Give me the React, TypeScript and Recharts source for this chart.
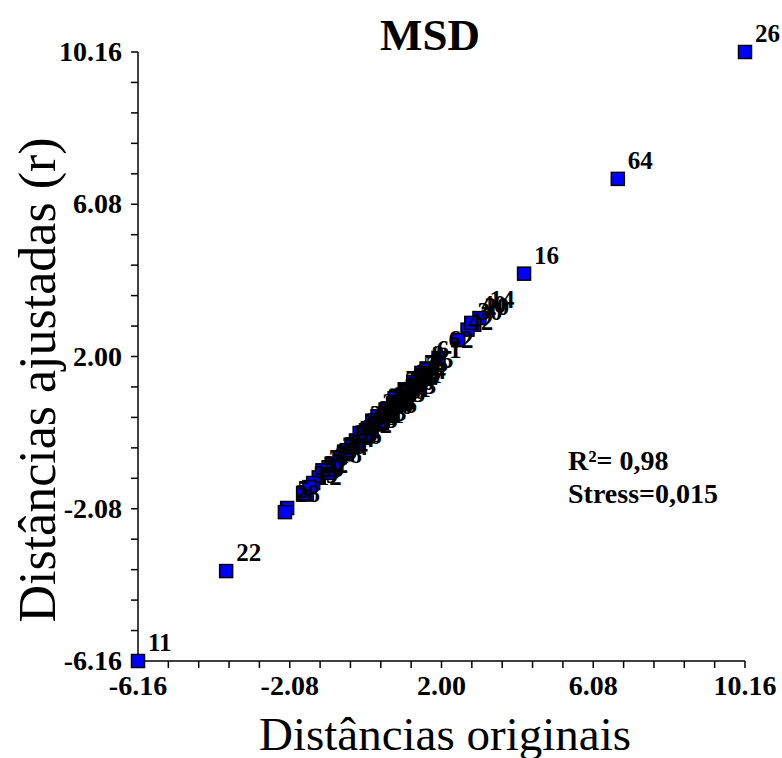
import React from "react";
import { ScatterChart, Scatter, XAxis, YAxis } from "recharts";

const title = "MSD";
const xTitle = "Distâncias originais";
const yTitle = "Distâncias ajustadas (r)";
const statLines = ["R²= 0,98", "Stress=0,015"];

const axisTicks = [
  -6.16, -5.344, -4.528, -3.712, -2.896, -2.08, -1.264, -0.448, 0.368, 1.184,
  2.0, 2.816, 3.632, 4.448, 5.264, 6.08, 6.896, 7.712, 8.528, 9.344, 10.16,
];
const majorTicks = [-6.16, -2.08, 2.0, 6.08, 10.16];
const majorLabels = ["-6.16", "-2.08", "2.00", "6.08", "10.16"];

const pointLabels = [
  "1","2","3","4","5","6","7","8","9","10","11","12","13","14","15","16",
  "17","18","19","20","21","22","23","24","25","26","27","28","29","30","31","32",
  "33","34","35","36","37","38","39","40","41","42","43","44","45","46","47","48",
  "49","50","51","52","53","54","55","56","57","58","59","60","61","62","63","64",
];
const originalDist = [
  -0.42, 0.21, 1.31, -0.85, -2.15, 0.55, -1.30, 1.46, 0.02, 0.88, -6.16, -1.62, 0.36, 3.02, -0.12, 4.22,
  0.70, -1.08, 1.02, 2.88, -0.62, -3.79, 0.14, 1.18, -0.30, 10.16, 0.46, -2.21, -0.95, 2.70, 0.78, -1.45,
  0.96, -0.20, 0.62, -0.55, 1.12, 0.28, -1.72, 2.80, 0.05, 2.45, 0.92, -0.74, 1.38, 0.40, -0.06, 0.82,
  -1.20, 0.66, 1.07, -0.27, 0.12, -0.92, 1.24, 0.50, -0.54, 0.74, -1.55, 0.30, 1.60, 1.92, -0.10, 6.74,
];
const adjustedDist = [
  -0.38, 0.18, 1.25, -0.90, -2.06, 0.60, -1.24, 1.56, 0.08, 0.84, -6.16, -1.70, 0.31, 3.03, -0.18, 4.22,
  0.74, -1.12, 1.10, 2.85, -0.55, -3.75, 0.28, 1.13, -0.25, 10.16, 0.44, -2.17, -0.88, 2.72, 0.66, -1.39,
  0.98, -0.05, 0.52, -0.62, 0.98, 0.40, -1.66, 2.90, -0.05, 2.44, 0.72, -0.70, 1.42, 0.22, -0.05, 0.95,
  -1.05, 0.60, 1.02, -0.32, 0.00, -0.91, 1.32, 0.58, -0.51, 0.88, -1.50, 0.20, 1.68, 1.96, -0.10, 6.76,
];

const data = pointLabels.map((label, i) => ({ label, x: originalDist[i], y: adjustedDist[i] }));

const FONT = "'Liberation Serif', 'Times New Roman', serif";

const majorLabel = (v: number) => {
  const idx = majorTicks.findIndex((m) => Math.abs(m - v) < 1e-6);
  return idx >= 0 ? majorLabels[idx] : "";
};

const XTick = (p: any) => {
  const t = majorLabel(p.payload.value);
  if (!t) return <g />;
  return (
    <text x={p.x} y={p.y + 25} textAnchor="middle" fontFamily={FONT} fontWeight="bold" fontSize={28} fill="#000">
      {t}
    </text>
  );
};

const YTick = (p: any) => {
  const t = majorLabel(p.payload.value);
  if (!t) return <g />;
  return (
    <text x={p.x - 7} y={p.y + 9} textAnchor="end" fontFamily={FONT} fontWeight="bold" fontSize={28} fill="#000">
      {t}
    </text>
  );
};

const SquareShape = (p: any) => {
  const s = 13;
  return <rect x={p.cx - s / 2} y={p.cy - s / 2} width={s} height={s} fill="#0000FF" stroke="#000" strokeWidth={1.5} />;
};

const LabelShape = (p: any) => {
  const lab = p.payload?.label ?? "";
  return (
    <text x={p.cx + 10} y={p.cy - 10} fontFamily={FONT} fontWeight="bold" fontSize={25} fill="#000">
      {lab}
    </text>
  );
};

export default function App() {
  return (
    <div style={{ position: "fixed", left: 0, top: 0, width: 782, height: 758, overflow: "hidden", background: "#fff" }}>
      <ScatterChart width={782} height={758} margin={{ top: 52, right: 37, left: 0, bottom: 0 }}>
        <XAxis
          type="number"
          dataKey="x"
          domain={[-6.16, 10.16]}
          ticks={axisTicks}
          interval={0}
          height={97}
          tickSize={7}
          axisLine={{ stroke: "#000", strokeWidth: 1.5 }}
          tickLine={{ stroke: "#000", strokeWidth: 1.5 }}
          tick={XTick}
        />
        <YAxis
          type="number"
          dataKey="y"
          domain={[-6.16, 10.16]}
          ticks={axisTicks}
          interval={0}
          width={138}
          tickSize={7}
          axisLine={{ stroke: "#000", strokeWidth: 1.5 }}
          tickLine={{ stroke: "#000", strokeWidth: 1.5 }}
          tick={YTick}
        />
        <Scatter data={data} shape={SquareShape} isAnimationActive={false} />
        <Scatter data={data} shape={LabelShape} isAnimationActive={false} />
      </ScatterChart>
      <svg width={782} height={758} style={{ position: "absolute", left: 0, top: 0, pointerEvents: "none" }}>
        <text x={430} y={50} textAnchor="middle" fontFamily={FONT} fontWeight="bold" fontSize={45} fill="#000">
          {title}
        </text>
        <text x={445} y={750} textAnchor="middle" fontFamily={FONT} fontSize={47} fill="#000">
          {xTitle}
        </text>
        <text
          x={55}
          y={380}
          textAnchor="middle"
          fontFamily={FONT}
          fontSize={52}
          fill="#000"
          transform="rotate(-90, 55, 380)"
        >
          {yTitle}
        </text>
        <text x={568} y={470} fontFamily={FONT} fontWeight="bold" fontSize={28} fill="#000">
          {statLines[0]}
        </text>
        <text x={568} y={503} fontFamily={FONT} fontWeight="bold" fontSize={28} fill="#000">
          {statLines[1]}
        </text>
      </svg>
    </div>
  );
}
